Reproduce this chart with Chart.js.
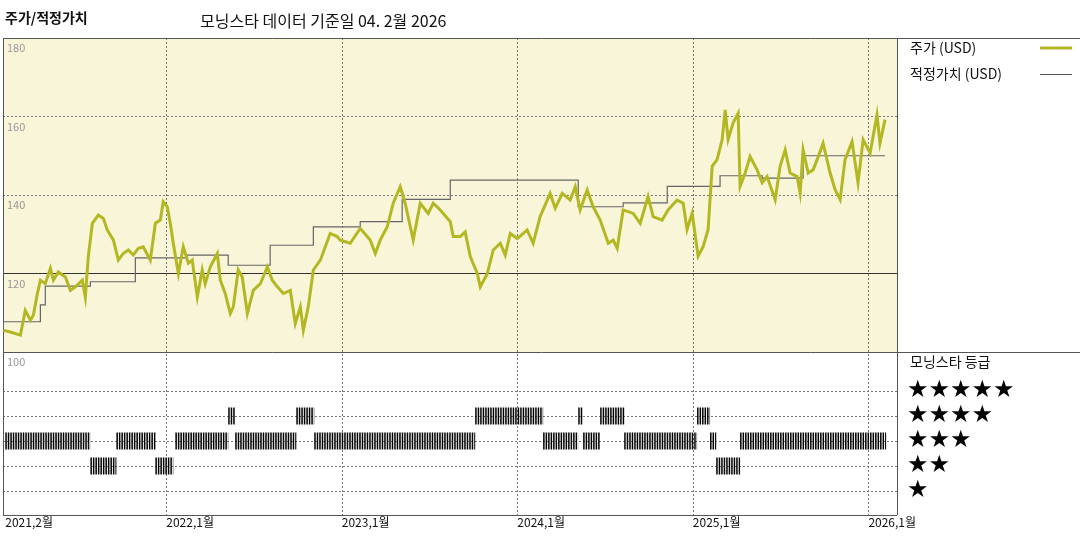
<!DOCTYPE html>
<html><head><meta charset="utf-8">
<script src="https://cdn.jsdelivr.net/npm/chart.js@4.4.1/dist/chart.umd.min.js"></script>
<style>html,body{margin:0;padding:0;background:#fff}#w{width:1080px;height:540px;position:relative}</style>
</head><body><div id="w"><canvas id="c"></canvas></div>
<script>
const priceDates=[2021.072,2021.112,2021.169,2021.197,2021.226,2021.243,2021.266,2021.283,2021.311,2021.340,2021.357,2021.385,2021.425,2021.454,2021.482,2021.522,2021.539,2021.556,2021.579,2021.613,2021.642,2021.664,2021.699,2021.727,2021.755,2021.784,2021.812,2021.841,2021.869,2021.909,2021.938,2021.966,2021.983,2022.006,2022.023,2022.040,2022.069,2022.097,2022.126,2022.148,2022.177,2022.205,2022.222,2022.251,2022.291,2022.308,2022.336,2022.365,2022.382,2022.410,2022.433,2022.462,2022.496,2022.536,2022.576,2022.604,2022.633,2022.667,2022.707,2022.735,2022.764,2022.781,2022.809,2022.838,2022.878,2022.906,2022.934,2022.974,2022.991,2023.048,2023.105,2023.162,2023.191,2023.219,2023.259,2023.293,2023.333,2023.361,2023.407,2023.447,2023.492,2023.521,2023.561,2023.618,2023.635,2023.675,2023.703,2023.732,2023.772,2023.789,2023.829,2023.863,2023.903,2023.931,2023.960,2024.000,2024.056,2024.090,2024.130,2024.187,2024.216,2024.256,2024.301,2024.330,2024.358,2024.398,2024.432,2024.472,2024.518,2024.546,2024.569,2024.603,2024.660,2024.700,2024.745,2024.774,2024.825,2024.859,2024.910,2024.945,2024.967,2024.996,2025.030,2025.059,2025.087,2025.110,2025.138,2025.167,2025.184,2025.201,2025.229,2025.258,2025.269,2025.298,2025.326,2025.366,2025.395,2025.423,2025.469,2025.497,2025.526,2025.554,2025.594,2025.611,2025.628,2025.657,2025.685,2025.708,2025.742,2025.782,2025.810,2025.839,2025.867,2025.907,2025.941,2025.970,2026.010,2026.049,2026.066,2026.095];
const priceValues=[105.5,105.1,104.3,110.6,108.1,109.4,114.9,118.3,117.4,121.3,118.3,120.4,119.1,115.7,116.6,118.3,114.0,124.3,132.8,134.9,134.0,131.1,128.5,123.4,125.1,126.0,124.7,126.4,126.8,123.4,132.8,133.6,138.3,137.0,132.8,127.7,120.0,126.8,122.6,123.4,114.0,120.9,117.4,121.7,125.1,118.3,114.9,109.8,111.5,120.9,119.1,109.8,115.7,117.4,121.7,118.3,116.6,114.9,115.7,107.2,111.5,105.5,111.5,120.9,123.4,126.8,130.2,129.4,128.5,127.7,131.5,128.5,125.1,128.5,131.9,137.9,142.1,137.9,128.5,137.9,135.3,137.9,136.2,133.2,129.4,129.4,130.6,124.3,120.0,116.6,120.0,126.0,127.7,124.7,130.2,128.9,131.1,127.7,134.5,140.4,136.6,140.4,138.7,142.1,136.2,141.3,137.0,133.6,127.7,128.5,126.4,136.2,135.3,132.8,139.6,134.5,133.6,136.2,138.7,137.9,131.2,135.4,124.4,126.9,131.2,147.3,149.0,154.1,161.7,154.1,158.3,160.8,142.2,145.6,149.8,146.4,143.1,144.7,138.8,147.3,151.5,145.6,144.7,140.5,151.5,145.6,146.4,149.0,153.2,145.6,141.4,138.8,149.0,153.6,143.1,154.1,150.7,160.4,153.2,159.2];
const fairDates=[2021.072,2021.283,2021.311,2021.568,2021.824,2022.120,2022.353,2022.592,2022.838,2023.105,2023.344,2023.618,2024.347,2024.603,2024.854,2025.155,2025.395,2025.628,2026.027,2026.095];
const fairValues=[105.1,107.7,112.0,116.8,117.9,124.0,124.7,122.1,127.2,131.9,133.2,138.9,143.8,137.0,138.0,142.2,144.9,144.3,150.0,150.0];
const ratingStart=[2021.083,2021.568,2021.716,2021.938,2022.052,2022.353,2022.393,2022.741,2022.843,2023.760,2024.147,2024.347,2024.375,2024.472,2024.609,2025.024,2025.098,2025.133,2025.269];
const ratingEnd=[2021.568,2021.716,2021.938,2022.040,2022.353,2022.393,2022.741,2022.843,2023.760,2024.147,2024.347,2024.375,2024.472,2024.609,2025.024,2025.098,2025.133,2025.269,2026.101];
const ratingStars=[3,2,3,2,3,4,3,4,3,4,3,4,3,4,3,4,3,2,3];
const yTicks=[180,160,140,120,100];
const xTickYears=[2021.083,2022,2023,2024,2025,2026];
const xTickLabels=['2021,2월','2022,1월','2023,1월','2024,1월','2025,1월','2026,1월'];
const starLabels=['★★★★★','★★★★','★★★','★★','★'];

const ratingPts=[];
ratingStars.forEach((r,i)=>{ratingPts.push({x:ratingStart[i],y:r});ratingPts.push({x:ratingEnd[i],y:r});ratingPts.push({x:ratingEnd[i],y:null});});

const FONT='"Noto Sans CJK KR", "Noto Sans", sans-serif';
const deco={id:'deco',
beforeDatasetsDraw(ch){const c=ch.ctx,a=ch.chartArea,x=ch.scales.x,y=ch.scales.y,y2=ch.scales.y2;
 c.save();
 const y100=y.getPixelForValue(100);
 c.fillStyle='#f8f5d9';c.fillRect(a.left,a.top,a.right-a.left,y100-a.top);
 c.lineWidth=1;c.strokeStyle='#777';c.setLineDash([2,2]);
 [2022,2023,2024,2025,2026].forEach(v=>{const p=Math.round(x.getPixelForValue(v))+0.5;c.beginPath();c.moveTo(p,a.top);c.lineTo(p,a.bottom);c.stroke();});
 [160,140].forEach(v=>{const p=Math.round(y.getPixelForValue(v))+0.5;c.beginPath();c.moveTo(a.left,p);c.lineTo(a.right,p);c.stroke();});
 [1,2,3,4,5].forEach(v=>{const p=Math.round(y2.getPixelForValue(v))+0.5;c.beginPath();c.moveTo(a.left,p);c.lineTo(a.right,p);c.stroke();});
 c.setLineDash([]);c.strokeStyle='#333';
 let p=Math.round(y.getPixelForValue(120))+0.5;c.beginPath();c.moveTo(a.left,p);c.lineTo(a.right,p);c.stroke();
 c.strokeStyle='#555';
 p=Math.round(y100)+0.5;c.beginPath();c.moveTo(a.left,p);c.lineTo(1080,p);c.stroke();
 c.beginPath();c.moveTo(a.left,a.top+0.5);c.lineTo(1080,a.top+0.5);c.stroke();
 c.beginPath();c.moveTo(a.right+0.5,a.top);c.lineTo(a.right+0.5,a.bottom);c.stroke();
 c.beginPath();c.moveTo(a.left,a.bottom+0.5);c.lineTo(a.right,a.bottom+0.5);c.stroke();
 c.beginPath();c.moveTo(a.left+0.5,a.top);c.lineTo(a.left+0.5,a.bottom);c.stroke();
 c.fillStyle='#999';c.font='11px '+FONT;c.textBaseline='middle';c.textAlign='left';
 yTicks.forEach(v=>c.fillText(String(v),a.left+4,y.getPixelForValue(v)+10));
 c.restore();},
afterDraw(ch){const c=ch.ctx,a=ch.chartArea,x=ch.scales.x,y2=ch.scales.y2;
 c.save();c.fillStyle='#111';c.textBaseline='middle';c.textAlign='left';
 c.font='12px '+FONT;
 xTickYears.forEach((v,i)=>c.fillText(xTickLabels[i],Math.max(a.left+2,x.getPixelForValue(v)),522));
 c.font='bold 14px '+FONT;c.fillText('주가/적정가치',5,18);
 c.font='16px '+FONT;c.fillText('모닝스타 데이터 기준일 04. 2월 2026',200,21);
 c.font='14px '+FONT;
 c.fillText('주가 (USD)',910,48);c.fillText('적정가치 (USD)',910,74);c.fillText('모닝스타 등급',910,362);
 c.strokeStyle='#b3b722';c.lineWidth=3;c.beginPath();c.moveTo(1040,48);c.lineTo(1072,48);c.stroke();
 c.strokeStyle='#555';c.lineWidth=1;c.beginPath();c.moveTo(1040,74.5);c.lineTo(1072,74.5);c.stroke();
 c.font='24px "DejaVu Sans", sans-serif';c.fillStyle='#000';
 starLabels.forEach((s,i)=>c.fillText(s,907,y2.getPixelForValue(5-i)));
 c.restore();}};

new Chart(document.getElementById('c'),{
 type:'line',
 data:{datasets:[
  {label:'주가 (USD)',data:priceDates.map((d,i)=>({x:d,y:priceValues[i]})),borderColor:'#b3b722',borderWidth:3,pointRadius:0,tension:0,yAxisID:'y'},
  {label:'적정가치 (USD)',data:fairDates.map((d,i)=>({x:d,y:fairValues[i]})),borderColor:'#666',borderWidth:1.2,pointRadius:0,stepped:'after',yAxisID:'y'},
  {label:'등급',data:ratingPts,borderColor:'#000',borderWidth:17,borderDash:[1.5,1],borderCapStyle:'butt',pointRadius:0,spanGaps:false,yAxisID:'y2'}
 ]},
 options:{responsive:true,maintainAspectRatio:false,animation:false,
  layout:{padding:{left:3,right:183,top:38,bottom:25}},
  plugins:{legend:{display:false},tooltip:{enabled:false}},
  scales:{
   x:{type:'linear',min:2021.07,max:2026.163,display:false},
   y:{min:58.47,max:180,display:false},
   y2:{min:0.04,max:19.12,display:false}
  }},
 plugins:[deco]});
</script></body></html>
